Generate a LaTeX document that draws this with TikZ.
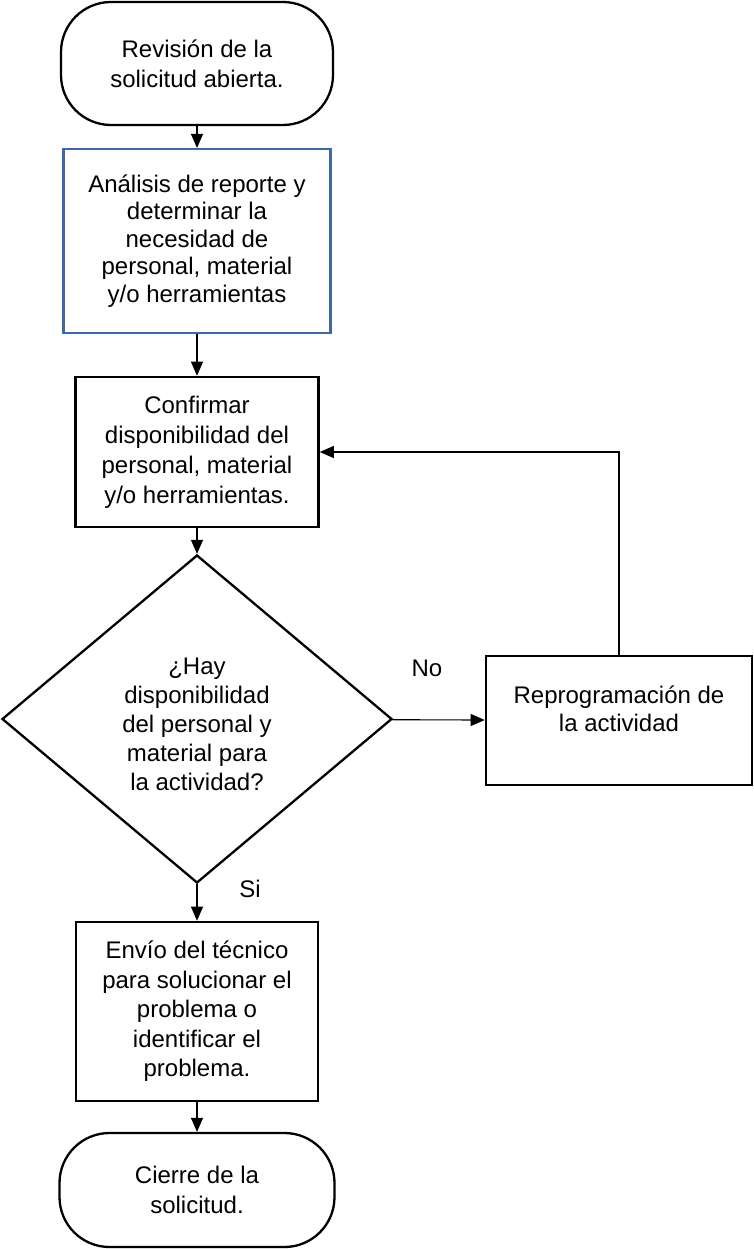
\documentclass[tikz,border=0pt]{standalone}
\usepackage{fontspec}
\setmainfont{Liberation Sans}
\usetikzlibrary{shapes.geometric,arrows.meta}
\definecolor{boxblue}{RGB}{62,104,168}
\tikzset{
  txt/.style={font=\fontsize{24}{30}\selectfont, align=center, inner sep=0pt},
  term/.style={txt, draw=black, line width=2.3pt, rounded corners=50pt},
  procbox/.style={txt, draw=black, line width=2.6pt},
  bluebox/.style={txt, draw=boxblue, line width=2.1pt},
  arr/.style={draw=black, line width=1.1pt, -{Triangle[width=12pt,length=14pt]}},
  lbl/.style={font=\fontsize{24}{30}\selectfont, inner sep=0pt}
}
\begin{document}
\begin{tikzpicture}[x=1pt,y=-1pt]
\useasboundingbox (0,0) rectangle (753,1249);
\node[term, minimum width=272pt, minimum height=123pt] (start) at (197,63.5) {Revisión de la\\solicitud abierta.};
\node[bluebox, minimum width=267pt, minimum height=184pt, font=\fontsize{24}{27.5}\selectfont] (analisis) at (197,241) {Análisis de reporte y\\determinar la\\necesidad de\\personal, material\\y/o herramientas};
\node[procbox, minimum width=243pt, minimum height=150pt] (confirmar) at (197,452) {Confirmar\\disponibilidad del\\personal, material\\y/o herramientas.};
\node[draw=black, line width=2.3pt, diamond, minimum width=390pt, minimum height=328pt, inner sep=0pt] (decision) at (197,719) {};
\node[txt, font=\fontsize{24}{29}\selectfont] (dectext) at (197,724) {¿Hay\\disponibilidad\\del personal y\\material para\\la actividad?};
\node[procbox, minimum width=266pt, minimum height=129pt] (reprog) at (619,720.5) {};
\node[txt, font=\fontsize{24}{28.5}\selectfont] (reprogtext) at (619,709) {Reprogramación de\\la actividad};
\node[procbox, minimum width=242pt, minimum height=179pt, font=\fontsize{24}{29.5}\selectfont] (envio) at (197,1011.5) {Envío del técnico\\para solucionar el\\problema o\\identificar el\\problema.};
\node[term, minimum width=275pt, minimum height=114pt] (fin) at (197,1190) {Cierre de la\\solicitud.};
\node[lbl] (nolbl) at (427,668) {No};
\node[lbl] (silbl) at (250,889) {Si};
\draw[arr] (start) -- (analisis);
\draw[arr] (analisis) -- (confirmar);
\draw[arr] (confirmar) -- (decision);
\draw[arr] (decision) -- (reprog);
\draw[arr] (reprog.north) |- (confirmar.east);
\draw[arr] (decision) -- (envio);
\draw[arr] (envio) -- (fin);
\end{tikzpicture}
\end{document}
